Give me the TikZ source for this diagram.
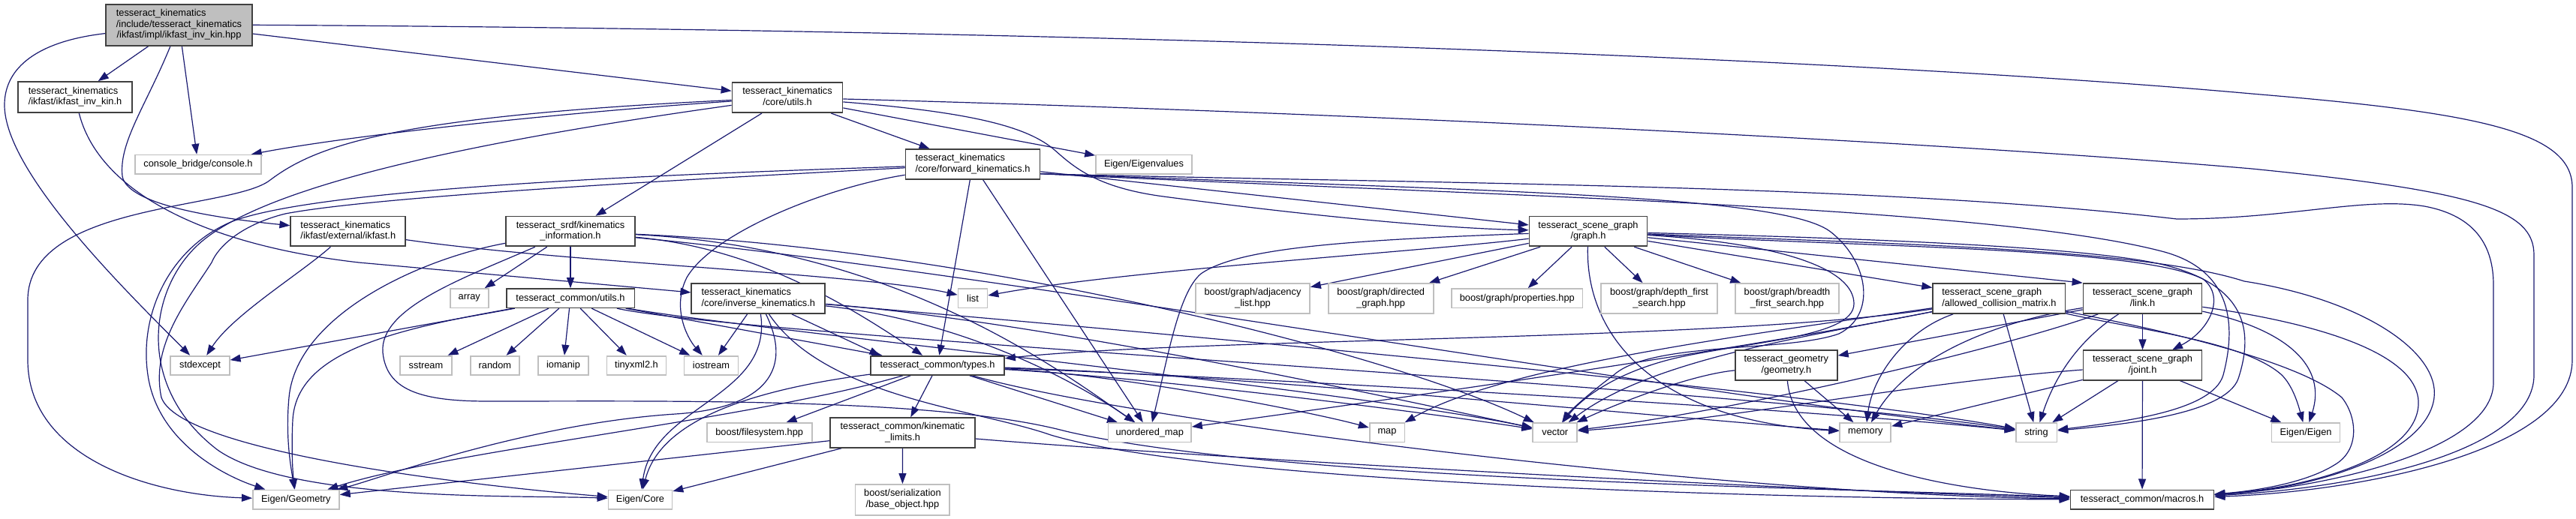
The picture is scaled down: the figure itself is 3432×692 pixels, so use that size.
\documentclass[tikz,border=0pt]{standalone}
\usepackage{fontspec}
\newfontfamily\lsans{Liberation Sans}
\usetikzlibrary{arrows.meta}
\definecolor{navy}{HTML}{191970}
\definecolor{pborder}{HTML}{404040}
\definecolor{sborder}{HTML}{BFBFBF}
\definecolor{rootfill}{HTML}{BFBFBF}
\newcommand\nfont{\lsans\fontsize{12.8pt}{14.7pt}\selectfont}
\newcommand\twol[2]{\begin{tabular}{@{}l@{}}#1\\\multicolumn{1}{@{}c@{}}{#2}\end{tabular}}
\newcommand\threel[3]{\begin{tabular}{@{}l@{}}#1\\#2\\\multicolumn{1}{@{}c@{}}{#3}\end{tabular}}
\pgfdeclarelayer{bg}
\pgfdeclarelayer{edges}
\pgfsetlayers{bg,edges,main}
\begin{document}
\begin{tikzpicture}[x=1pt,y=-1pt,
  nd/.style={draw, line width=1.7pt, fill=white, inner sep=0pt, font=\nfont, text=black},
  proj/.style={nd, draw=pborder},
  sys/.style={nd, draw=sborder},
  rootn/.style={nd, draw=pborder, fill=rootfill},
  edg/.style={draw=navy, line width=1.2pt, -{Triangle[length=14pt,width=10pt]}}]
\begin{pgfonlayer}{bg}
\fill[white] (0,0) rectangle (3432,692);
\end{pgfonlayer}
\useasboundingbox (0,0) rectangle (3432,692);

% ---------- nodes ----------
\node[rootn, minimum width=195pt, minimum height=55pt] (R) at (238.5,33.3) {\threel{tesseract\_kinematics}{/include/tesseract\_kinematics}{/ikfast/impl/ikfast\_inv\_kin.hpp}};
\node[proj, minimum width=152pt, minimum height=41pt] (IKH) at (100,129.5) {\twol{tesseract\_kinematics}{/ikfast/ikfast\_inv\_kin.h}};
\node[sys, minimum width=167.5pt, minimum height=25.3pt] (CB) at (264,219.3) {console\_bridge/console.h};
\node[proj, minimum width=147pt, minimum height=40.3pt] (CU) at (1049,130) {\twol{tesseract\_kinematics}{/core/utils.h}};
\node[proj, minimum width=153pt, minimum height=39.7pt] (IKF) at (463.8,308.5) {\twol{tesseract\_kinematics}{/ikfast/external/ikfast.h}};
\node[proj, minimum width=179pt, minimum height=39.7pt] (FK) at (1296,219) {\twol{tesseract\_kinematics}{/core/forward\_kinematics.h}};
\node[sys, minimum width=128pt, minimum height=25.3pt] (EV) at (1524,219.3) {Eigen/Eigenvalues};
\node[proj, minimum width=172pt, minimum height=39.7pt] (SKI) at (760,308.5) {\twol{tesseract\_srdf/kinematics}{\_information.h}};
\node[proj, minimum width=157pt, minimum height=39.7pt] (SG) at (2116,308.5) {\twol{tesseract\_scene\_graph}{/graph.h}};
\node[sys, minimum width=51pt, minimum height=25.3pt] (ARR) at (625.3,397.7) {array};
\node[proj, minimum width=170.7pt, minimum height=25.3pt] (CMU) at (760,397.7) {tesseract\_common/utils.h};
\node[proj, minimum width=178pt, minimum height=40pt] (IK) at (1010.3,398) {\twol{tesseract\_kinematics}{/core/inverse\_kinematics.h}};
\node[sys, minimum width=39pt, minimum height=25.3pt] (LST) at (1296,397.7) {list};
\node[sys, minimum width=152pt, minimum height=40pt] (ADJ) at (1669,398) {\twol{boost/graph/adjacency}{\_list.hpp}};
\node[sys, minimum width=140pt, minimum height=40pt] (DIR) at (1839.7,398) {\twol{boost/graph/directed}{\_graph.hpp}};
\node[sys, minimum width=174.5pt, minimum height=25.3pt] (PROP) at (2021.3,397.7) {boost/graph/properties.hpp};
\node[sys, minimum width=155pt, minimum height=40pt] (DFS) at (2210.5,398) {\twol{boost/graph/depth\_first}{\_search.hpp}};
\node[sys, minimum width=137.6pt, minimum height=40pt] (BFS) at (2381,398) {\twol{boost/graph/breadth}{\_first\_search.hpp}};
\node[proj, minimum width=176.4pt, minimum height=40pt] (ACM) at (2663.4,398) {\twol{tesseract\_scene\_graph}{/allowed\_collision\_matrix.h}};
\node[proj, minimum width=158pt, minimum height=40pt] (LK) at (2854.5,398) {\twol{tesseract\_scene\_graph}{/link.h}};
\node[sys, minimum width=78.4pt, minimum height=25.3pt] (STDX) at (266.5,487.3) {stdexcept};
\node[sys, minimum width=69pt, minimum height=25.3pt] (SST) at (567.5,487.3) {sstream};
\node[sys, minimum width=65.4pt, minimum height=25.3pt] (RND) at (659.4,487.3) {random};
\node[sys, minimum width=67pt, minimum height=25.3pt] (IOM) at (750.5,487.3) {iomanip};
\node[sys, minimum width=79pt, minimum height=25.3pt] (TX) at (848,487.3) {tinyxml2.h};
\node[sys, minimum width=72pt, minimum height=25.3pt] (IOS) at (947.5,487.3) {iostream};
\node[proj, minimum width=178pt, minimum height=25.3pt] (CT) at (1249,487.3) {tesseract\_common/types.h};
\node[proj, minimum width=136pt, minimum height=39.4pt] (TG) at (2379.8,487) {\twol{tesseract\_geometry}{/geometry.h}};
\node[proj, minimum width=158pt, minimum height=39.4pt] (JT) at (2854.5,487) {\twol{tesseract\_scene\_graph}{/joint.h}};
\node[sys, minimum width=140pt, minimum height=25.3pt] (BFSYS) at (1011.7,576.7) {boost/filesystem.hpp};
\node[proj, minimum width=193.5pt, minimum height=39.7pt] (KL) at (1202.5,577) {\twol{tesseract\_common/kinematic}{\_limits.h}};
\node[sys, minimum width=110.5pt, minimum height=25.3pt] (UM) at (1531.7,576.7) {unordered\_map};
\node[sys, minimum width=46.7pt, minimum height=25.3pt] (MAP) at (1848,576.7) {map};
\node[sys, minimum width=59pt, minimum height=25.3pt] (VEC) at (2071.8,576.7) {vector};
\node[sys, minimum width=68pt, minimum height=25.3pt] (MEM) at (2485.3,576.7) {memory};
\node[sys, minimum width=54.7pt, minimum height=25.3pt] (STR) at (2713,576.7) {string};
\node[sys, minimum width=91pt, minimum height=25.3pt] (EE) at (3072,576.7) {Eigen/Eigen};
\node[sys, minimum width=115pt, minimum height=25.3pt] (EG) at (394.4,666) {Eigen/Geometry};
\node[sys, minimum width=85pt, minimum height=25.3pt] (EC) at (853,666) {Eigen/Core};
\node[sys, minimum width=125.7pt, minimum height=40.7pt] (BSER) at (1202.4,666.3) {\twol{boost/serialization}{/base\_object.hpp}};
\node[proj, minimum width=191pt, minimum height=25.3pt] (MC) at (2854,666) {tesseract\_common/macros.h};

% ---------- edges ----------
\begin{pgfonlayer}{edges}
% root
\draw[edg] (R) -- (IKH);
\draw[edg] (R) -- (CB);
\draw[edg] (R) .. controls (195,140) and (158,190) .. (163,235) .. controls (170,275) and (300,292) .. (IKF);
\draw[edg] (R) .. controls (50,55) and (6,90) .. (6,140) .. controls (6,230) and (170,390) .. (STDX);
\draw[edg] (R) -- (CU);
\draw[edg] (R.east) .. controls (1500,40) and (2500,80) .. (3000,125) .. controls (3300,150) and (3427,175) .. (3427,250) -- (3427,480) .. controls (3427,600) and (3150,655) .. (MC);
% ikfast_inv_kin.h
\draw[edg] (IKH) .. controls (130,250) and (260,325) .. (478,350) -- (IK);
% ikfast.h
\draw[edg] (IKF) .. controls (400,365) and (310,420) .. (STDX);
\draw[edg] (IKF) .. controls (750,350) and (1150,365) .. (LST);
% core/utils.h
\draw[edg] (CU) .. controls (750,150) and (470,180) .. (CB);
\draw[edg] (CU) .. controls (520,155) and (420,195) .. (360,240) .. controls (310,280) and (37,270) .. (37,400) -- (37,480) .. controls (37,610) and (200,660) .. (EG);
\draw[edg] (CU) .. controls (620,190) and (340,250) .. (260,330) .. controls (195,395) and (185,520) .. (290,600) .. controls (390,670) and (700,660) .. (EC);
\draw[edg] (CU) -- (EV);
\draw[edg] (CU) -- (FK);
\draw[edg] (CU) -- (SKI);
\draw[edg] (CU) .. controls (1300,150) and (1370,170) .. (1405,200) .. controls (1430,222) and (1460,250) .. (1550,262) .. controls (1800,295) and (1950,305) .. (SG);
\draw[edg] (CU) .. controls (1800,150) and (2600,190) .. (3000,225) .. controls (3300,255) and (3376,280) .. (3376,340) -- (3376,500) .. controls (3376,600) and (3150,650) .. (MC);
% forward_kinematics.h
\draw[edg] (FK) .. controls (900,232) and (430,250) .. (310,295) .. controls (225,330) and (185,420) .. (197,500) .. controls (210,590) and (300,635) .. (EG);
\draw[edg] (FK) .. controls (900,240) and (500,262) .. (380,285) .. controls (320,300) and (290,330) .. (282,350) .. controls (250,400) and (200,460) .. (215,530) .. controls (240,600) and (600,645) .. (EC);
\draw[edg] (FK) .. controls (1100,250) and (950,310) .. (915,370) .. controls (895,410) and (915,450) .. (IOS);
\draw[edg] (FK) -- (CT);
\draw[edg] (FK) -- (UM);
\draw[edg] (FK) -- (SG);
\draw[edg] (FK.-8) .. controls (1900,245) and (2500,245) .. (2900,292) .. controls (3050,292) and (3150,262) .. (3230,275) .. controls (3300,288) and (3322,330) .. (3322,380) -- (3322,510) .. controls (3322,600) and (3100,650) .. (MC);
\draw[edg] (FK.-8) .. controls (2000,255) and (2380,260) .. (2440,310) .. controls (2490,350) and (2500,420) .. (2450,445) .. controls (2380,470) and (2200,455) .. (2150,500) .. controls (2110,530) and (2090,550) .. (VEC);
\draw[edg] (FK.-8) .. controls (2000,262) and (2650,275) .. (2880,335) .. controls (2985,362) and (2975,450) .. (2962,500) .. controls (2948,548) and (2830,562) .. (STR);
% kinematics_information.h
\draw[edg] (SKI) .. controls (560,345) and (395,420) .. (385,530) .. controls (380,585) and (388,625) .. (EG);
\draw[edg] (SKI) -- (ARR);
\draw[edg] (SKI) -- (CMU);
\draw[edg] (SKI) .. controls (1000,330) and (1120,400) .. (CT);
\draw[edg] (SKI) .. controls (1200,330) and (1420,500) .. (UM);
\draw[edg] (SKI) .. controls (1300,332) and (1850,470) .. (VEC);
\draw[edg] (SKI) .. controls (1300,360) and (2200,520) .. (STR);
\draw[edg] (SKI) .. controls (620,370) and (505,410) .. (510,470) .. controls (515,520) and (560,535) .. (650,535) .. controls (900,535) and (1250,530) .. (1420,575) .. controls (1700,640) and (2400,650) .. (MC);
% tesseract_common/utils.h
\draw[edg] (CMU) -- (STDX);
\draw[edg] (CMU) .. controls (520,440) and (395,470) .. (390,560) .. controls (388,600) and (390,630) .. (EG);
\draw[edg] (CMU) -- (SST);
\draw[edg] (CMU) -- (RND);
\draw[edg] (CMU) -- (IOM);
\draw[edg] (CMU) -- (TX);
\draw[edg] (CMU) -- (IOS);
\draw[edg] (CMU) -- (CT);
\draw[edg] (CMU) .. controls (1000,440) and (1800,520) .. (VEC);
\draw[edg] (CMU) .. controls (1000,450) and (2300,515) .. (STR);
% inverse_kinematics.h
\draw[edg] (IK) -- (IOS);
\draw[edg] (IK) .. controls (1030,530) and (870,540) .. (EC);
\draw[edg] (IK) .. controls (1060,500) and (1010,545) .. (900,552) .. controls (700,565) and (500,640) .. (EG);
\draw[edg] (IK) -- (CT.170);
\draw[edg] (IK) .. controls (1300,430) and (1450,520) .. (UM);
\draw[edg] (IK) .. controls (1400,430) and (1850,530) .. (VEC);
\draw[edg] (IK) .. controls (1500,440) and (2400,520) .. (STR);
\draw[edg] (IK) .. controls (1100,530) and (1300,545) .. (1400,580) .. controls (1600,640) and (2300,665) .. (MC);
% types.h
\draw[edg] (CT) .. controls (1000,560) and (600,600) .. (EG);
\draw[edg] (CT) .. controls (1000,520) and (880,560) .. (EC);
\draw[edg] (CT) -- (KL);
\draw[edg] (CT) -- (BFSYS);
\draw[edg] (CT) -- (UM);
\draw[edg] (CT) .. controls (1500,500) and (1750,550) .. (MAP);
\draw[edg] (CT) .. controls (1550,505) and (1900,550) .. (VEC);
\draw[edg] (CT) .. controls (1700,505) and (2400,545) .. (STR);
\draw[edg] (CT) .. controls (1650,500) and (2200,555) .. (MEM);
\draw[edg] (CT) .. controls (1500,560) and (2300,660) .. (MC);
% kinematic_limits.h
\draw[edg] (KL) -- (BSER);
\draw[edg] (KL) -- (EC);
\draw[edg] (KL) -- (EG);
\draw[edg] (KL) .. controls (1600,610) and (2400,655) .. (MC);
% graph.h
\draw[edg] (SG) .. controls (1900,335) and (1500,360) .. (LST);
\draw[edg] (SG) -- (ADJ);
\draw[edg] (SG) -- (DIR);
\draw[edg] (SG) -- (PROP);
\draw[edg] (SG) -- (DFS);
\draw[edg] (SG) -- (BFS);
\draw[edg] (SG) -- (ACM);
\draw[edg] (SG) -- (LK.north west);
\draw[edg] (SG) .. controls (2500,330) and (2850,330) .. (2935,372) .. controls (2965,395) and (2945,440) .. (JT);
\draw[edg] (SG) .. controls (1800,320) and (1650,330) .. (1600,365) .. controls (1570,390) and (1555,480) .. (UM);
\draw[edg] (SG) .. controls (2380,325) and (2470,360) .. (2470,405) .. controls (2470,450) and (2330,455) .. (2230,478) .. controls (2140,500) and (2100,540) .. (VEC);
\draw[edg] (SG) .. controls (2112,445) and (2200,560) .. (MEM);
\draw[edg] (SG) .. controls (2500,318) and (2800,330) .. (2890,355) .. controls (3000,385) and (3000,450) .. (2982,505) .. controls (2965,552) and (2830,566) .. (STR);
\draw[edg] (SG) .. controls (2500,325) and (2850,330) .. (2990,375) .. controls (3150,400) and (3250,470) .. (3243,530) .. controls (3235,600) and (3100,650) .. (MC);
% allowed_collision_matrix.h
\draw[edg] (ACM) .. controls (2300,455) and (1600,450) .. (CT);
\draw[edg] (ACM) .. controls (2300,470) and (1800,540) .. (UM);
\draw[edg] (ACM) .. controls (2300,450) and (2000,490) .. (MAP);
\draw[edg] (ACM) .. controls (2400,450) and (2200,480) .. (VEC);
\draw[edg] (ACM) -- (STR);
\draw[edg] (ACM) .. controls (2540,440) and (2495,500) .. (MEM);
\draw[edg] (ACM) .. controls (2850,440) and (2990,455) .. (3040,500) .. controls (3055,515) and (3062,540) .. (EE);
\draw[edg] (ACM) .. controls (2880,440) and (3060,480) .. (3120,530) .. controls (3140,555) and (3145,600) .. (3110,620) .. controls (3070,645) and (3000,655) .. (MC);
% link.h
\draw[edg] (LK) -- (TG);
\draw[edg] (LK) -- (JT);
\draw[edg] (LK) .. controls (2790,440) and (2745,480) .. (STR);
\draw[edg] (LK) .. controls (2650,430) and (2540,480) .. (MEM);
\draw[edg] (LK) .. controls (2650,470) and (2300,550) .. (VEC);
\draw[edg] (LK) .. controls (3050,440) and (3100,490) .. (EE);
\draw[edg] (LK) .. controls (3150,440) and (3225,490) .. (3222,540) .. controls (3218,610) and (3080,650) .. (MC);
% joint.h
\draw[edg] (JT) -- (MC);
\draw[edg] (JT) -- (STR);
\draw[edg] (JT) -- (MEM);
\draw[edg] (JT) -- (EE);
\draw[edg] (JT) .. controls (2550,510) and (2300,560) .. (VEC);
% geometry.h
\draw[edg] (TG) -- (MEM);
\draw[edg] (TG) .. controls (2250,500) and (2150,540) .. (VEC);
\draw[edg] (TG) .. controls (2390,620) and (2600,655) .. (MC);
\end{pgfonlayer}
\end{tikzpicture}
\end{document}
